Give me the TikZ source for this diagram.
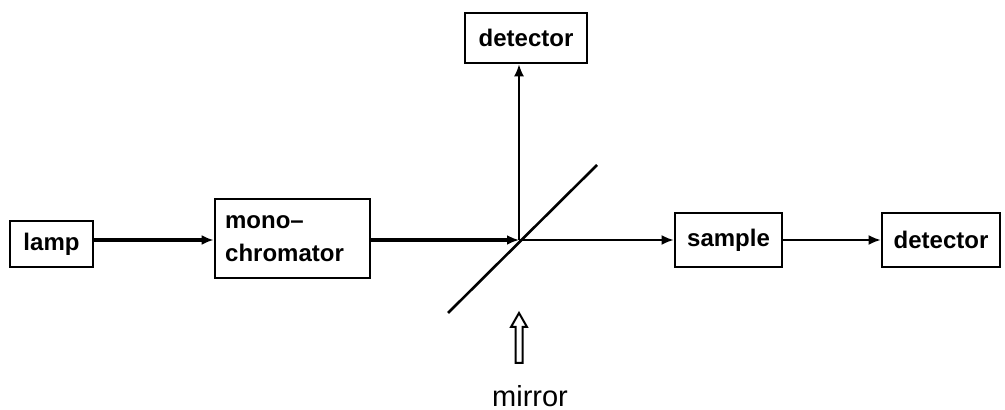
\documentclass[tikz,border=0pt]{standalone}
\usepackage{fontspec}
\setmainfont{Liberation Sans}
\usetikzlibrary{arrows.meta}
\begin{document}
\begin{tikzpicture}[x=0.5pt,y=-0.5pt,
  blk/.style={draw,line width=1.4pt,inner sep=0pt,font=\bfseries\fontsize{12}{16.5}\selectfont},
  thick beam/.style={line width=1.6pt,-{Latex[length=6pt,width=5pt]}},
  thin beam/.style={line width=1pt,-{Latex[length=6pt,width=5pt]}},
  mirrorline/.style={line width=1.3pt}]
\useasboundingbox (0,0) rectangle (1005,410);
\node[blk,minimum width=41.5pt,minimum height=23pt] (lamp) at (51.5,244) {lamp};
\node[blk,minimum width=77.5pt,minimum height=39.5pt,align=left] (mono) at (292.5,238.5) {mono--\\chromator\hspace*{8pt}};
\node[blk,minimum width=61pt,minimum height=25pt] (det1) at (526,38) {detector};
\node[blk,minimum width=53.5pt,minimum height=27pt] (sample) at (728.5,240) {sample};
\node[blk,minimum width=59pt,minimum height=27pt] (det2) at (941,240) {detector};
\coordinate (m) at (519,240);
\coordinate (m1) at (448,313);
\coordinate (m2) at (597,165);
\draw[mirrorline] (m1) -- (m2);
\draw[thick beam] (lamp.east |- m) -- (mono.west |- m);
\draw[thick beam] (mono.east |- m) -- (m);
\draw[thin beam] (m) -- (sample.west |- m);
\draw[thin beam] (sample.east |- m) -- (det2.west |- m);
\draw[thin beam,line width=0.8pt] (m) -- (det1.south -| m);
\draw[line width=1pt,line join=miter] (519,313) -- (527,327) -- (522.5,327) -- (522.5,363) -- (515.5,363) -- (515.5,327) -- (511,327) -- cycle;
\node[font=\fontsize{14.5}{16}\selectfont] (mlabel) at (530,396) {mirror};
\end{tikzpicture}
\end{document}
